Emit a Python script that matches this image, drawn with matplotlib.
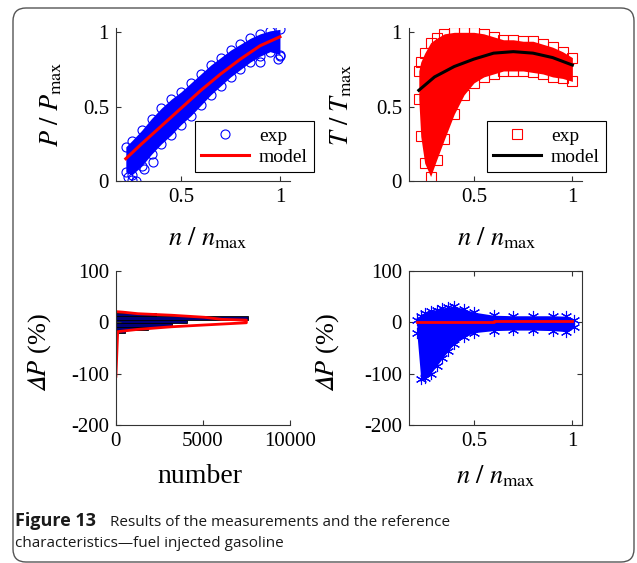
import numpy as np
import matplotlib
matplotlib.use("Agg")
import matplotlib.pyplot as plt
from matplotlib.patches import FancyBboxPatch

plt.rcParams['font.family'] = 'Liberation Serif'
plt.rcParams['mathtext.fontset'] = 'stix'
plt.rcParams['axes.unicode_minus'] = False

# ---- data ----
# P / Pmax vs n / nmax (cloud envelope + model)
p_x = [0.22, 0.25, 0.30, 0.35, 0.40, 0.45, 0.50, 0.55, 0.60, 0.65, 0.70, 0.75, 0.80, 0.85, 0.90, 0.95, 1.00]
p_hi = [0.23, 0.27, 0.34, 0.42, 0.49, 0.55, 0.60, 0.66, 0.72, 0.78, 0.83, 0.88, 0.92, 0.96, 0.99, 1.01, 1.02]
p_lo = [0.06, 0.04, 0.10, 0.18, 0.25, 0.31, 0.38, 0.44, 0.51, 0.58, 0.64, 0.70, 0.75, 0.80, 0.84, 0.87, 0.85]
p_out_x = [0.23, 0.25, 0.27, 0.31, 0.36, 0.90, 0.99, 1.00]
p_out_y = [0.03, 0.01, 0.00, 0.08, 0.13, 0.80, 0.82, 0.84]
p_model_x = [0.22, 0.30, 0.40, 0.50, 0.60, 0.70, 0.80, 0.90, 1.00]
p_model_y = [0.15, 0.25, 0.37, 0.49, 0.61, 0.72, 0.82, 0.91, 0.97]

# T / Tmax vs n / nmax
t_x = [0.22, 0.23, 0.25, 0.28, 0.31, 0.35, 0.40, 0.45, 0.50, 0.55, 0.60, 0.65, 0.70, 0.75, 0.80, 0.85, 0.90, 0.95, 1.00]
t_hi = [0.74, 0.80, 0.86, 0.93, 0.96, 0.99, 1.00, 1.00, 1.00, 0.99, 0.97, 0.95, 0.95, 0.94, 0.94, 0.92, 0.90, 0.87, 0.83]
t_lo = [0.55, 0.30, 0.12, 0.03, 0.14, 0.28, 0.45, 0.58, 0.66, 0.70, 0.72, 0.74, 0.74, 0.74, 0.73, 0.72, 0.70, 0.69, 0.67]
t_model_x = [0.22, 0.30, 0.40, 0.50, 0.60, 0.70, 0.80, 0.90, 1.00]
t_model_y = [0.61, 0.70, 0.77, 0.82, 0.86, 0.87, 0.86, 0.83, 0.78]

# histogram of dP (number of samples per bin) + fitted curve
hist_dp = [-55, -18, -12, -5, 2, 8.5, 15]
hist_count = [40, 500, 1850, 3200, 4100, 7600, 2300]
fit_dp = [-105, -18, -13.6, -8.5, -5, -0.7, 4.5, 6, 10, 14, 17, 20, 21]
fit_count = [0, 100, 1260, 3200, 5100, 7500, 7500, 6070, 5100, 3200, 1260, 400, 0]

# dP (%) vs n / nmax
d_x = [0.21, 0.23, 0.25, 0.28, 0.31, 0.34, 0.37, 0.40, 0.45, 0.50, 0.60, 0.70, 0.80, 0.90, 0.97, 1.01]
d_hi = [5, 12, 18, 22, 25, 28, 30, 32, 26, 20, 14, 13, 13, 13, 12, 5]
d_lo = [-20, -110, -108, -100, -85, -70, -55, -42, -28, -20, -16, -15, -15, -16, -18, -8]
d_model_x = [0.21, 0.60, 0.60, 1.00]
d_model_y = [0, 0, 2, 2]

blue = '#0000ff'
red = '#ff0000'
spine_c = '#333333'
tick_fs = 15
lab_fs = 19
dp_label = '$\U0001D6E5P$ (%)'

fig = plt.figure(figsize=(6.37, 5.63), dpi=100)

ax1 = fig.add_axes([0.182, 0.6785, 0.273, 0.272])
ax2 = fig.add_axes([0.642, 0.6785, 0.272, 0.272])
ax3 = fig.add_axes([0.182, 0.245, 0.273, 0.2735])
ax4 = fig.add_axes([0.642, 0.245, 0.272, 0.2735])


def style(ax, box=False):
    for s in ['left', 'bottom', 'top', 'right']:
        ax.spines[s].set_color(spine_c)
        ax.spines[s].set_linewidth(0.8)
    if not box:
        ax.spines['top'].set_visible(False)
        ax.spines['right'].set_visible(False)
    ax.tick_params(direction='in', length=3.5, width=0.8, color=spine_c,
                   labelsize=tick_fs, pad=5, top=box, right=box)


# --- top left: power ---
ax1.fill_between(p_x, p_lo, p_hi, color=blue, lw=0)
ax1.plot(p_x, p_hi, 'o', ms=6.5, mfc='none', mec=blue, mew=0.8, label='exp')
ax1.plot(p_x, p_lo, 'o', ms=6.5, mfc='none', mec=blue, mew=0.8)
ax1.plot(p_out_x, p_out_y, 'o', ms=6.5, mfc='none', mec=blue, mew=0.8)
ax1.plot(p_model_x, p_model_y, color=red, lw=2.2, label='model')
ax1.set_xlim(0.17, 1.05)
ax1.set_ylim(0, 1.03)
ax1.set_xticks([0.5, 1])
ax1.set_xticklabels(['0.5', '1'])
ax1.set_yticks([0, 0.5, 1])
ax1.set_yticklabels(['0', '0.5', '1'])
style(ax1)
ax1.set_ylabel(r'$P\ /\ P_{\max}$', fontsize=lab_fs)
ax1.set_xlabel(r'$n\ /\ n_{\max}$', fontsize=lab_fs)
ax1.yaxis.set_label_coords(-0.30, 0.5)
ax1.xaxis.set_label_coords(0.53, -0.29)
leg = ax1.legend(loc='lower left', bbox_to_anchor=(0.397, -0.005), fontsize=14,
                 numpoints=1, handlelength=2.5, fancybox=False, framealpha=1,
                 edgecolor='black', borderpad=0.3, labelspacing=0.2, handletextpad=0.5)
leg.get_frame().set_linewidth(0.8)

# --- top right: torque ---
ax2.fill_between(t_x, t_lo, t_hi, color=red, lw=0)
ax2.plot(t_x, t_hi, 's', ms=7, mfc='none', mec=red, mew=0.8, label='exp')
ax2.plot(t_x, t_lo, 's', ms=7, mfc='none', mec=red, mew=0.8)
ax2.plot(t_model_x, t_model_y, color='black', lw=2.2, label='model')
ax2.set_xlim(0.17, 1.05)
ax2.set_ylim(0, 1.03)
ax2.set_xticks([0.5, 1])
ax2.set_xticklabels(['0.5', '1'])
ax2.set_yticks([0, 0.5, 1])
ax2.set_yticklabels(['0', '0.5', '1'])
style(ax2)
ax2.set_ylabel(r'$T\ /\ T_{\max}$', fontsize=lab_fs)
ax2.set_xlabel(r'$n\ /\ n_{\max}$', fontsize=lab_fs)
ax2.yaxis.set_label_coords(-0.32, 0.5)
ax2.xaxis.set_label_coords(0.51, -0.29)
leg = ax2.legend(loc='lower left', bbox_to_anchor=(0.393, -0.005), fontsize=14,
                 numpoints=1, handlelength=2.5, fancybox=False, framealpha=1,
                 edgecolor='black', borderpad=0.3, labelspacing=0.2, handletextpad=0.5)
leg.get_frame().set_linewidth(0.8)

# --- bottom left: histogram ---
ax3.barh(hist_dp, hist_count, height=6.5, color='#00007a', edgecolor='black', lw=0.6)
ax3.plot(fit_count, fit_dp, color=red, lw=2.0)
ax3.set_xlim(0, 10000)
ax3.set_ylim(-200, 100)
ax3.set_xticks([0, 5000, 10000])
ax3.set_yticks([-200, -100, 0, 100])
style(ax3)
ax3.set_ylabel(dp_label, fontsize=lab_fs)
ax3.set_xlabel('number', fontsize=lab_fs + 1)
ax3.yaxis.set_label_coords(-0.36, 0.47)
ax3.xaxis.set_label_coords(0.48, -0.25)

# --- bottom right: deviation ---
ax4.fill_between(d_x, d_lo, d_hi, color=blue, lw=0)
ax4.plot(d_x, d_hi, marker=(6, 2, 0), ls='none', ms=8, mec=blue, mew=0.8)
ax4.plot(d_x, d_lo, marker=(6, 2, 0), ls='none', ms=8, mec=blue, mew=0.8)
ax4.plot(d_model_x, d_model_y, color=red, lw=2.0)
ax4.set_xlim(0.17, 1.05)
ax4.set_ylim(-200, 100)
ax4.set_xticks([0.5, 1])
ax4.set_xticklabels(['0.5', '1'])
ax4.set_yticks([-200, -100, 0, 100])
style(ax4, box=True)
ax4.set_ylabel(dp_label, fontsize=lab_fs)
ax4.set_xlabel(r'$n\ /\ n_{\max}$', fontsize=lab_fs)
ax4.yaxis.set_label_coords(-0.39, 0.47)
ax4.xaxis.set_label_coords(0.50, -0.25)

# frame and caption
frame = FancyBboxPatch((0.13, 0.01), 6.21, 5.54, boxstyle='round,pad=0,rounding_size=0.13',
                       transform=fig.dpi_scale_trans, fill=False, edgecolor='#555555', lw=1.0)
fig.patches.append(frame)
fig.text(0.15, 0.37, 'Figure 13', transform=fig.dpi_scale_trans, fontsize=13,
         fontweight='bold', family='Open Sans', color='#1a1a1a')
fig.text(1.10, 0.37, 'Results of the measurements and the reference',
         transform=fig.dpi_scale_trans, fontsize=11, family='Open Sans', color='#1a1a1a')
fig.text(0.15, 0.16, 'characteristics\u2014fuel injected gasoline',
         transform=fig.dpi_scale_trans, fontsize=11, family='Open Sans', color='#1a1a1a')

fig.savefig('out.png', dpi=100)
